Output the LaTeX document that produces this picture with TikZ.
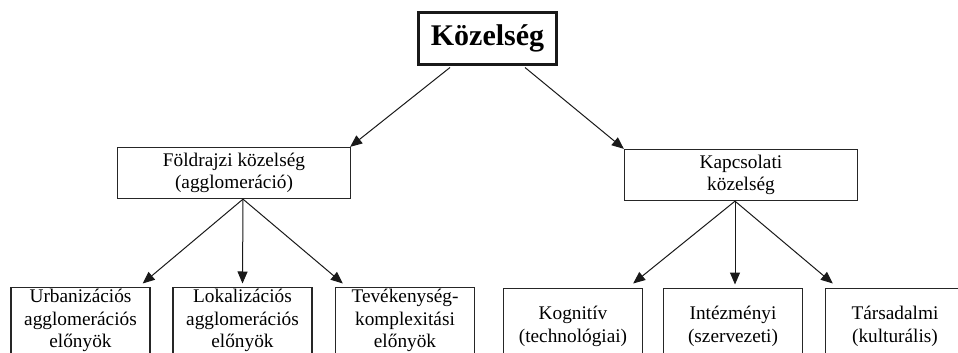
\documentclass[tikz,border=0pt]{standalone}
\usepackage{fontspec}
\setmainfont{Liberation Serif}
\usetikzlibrary{calc,arrows.meta}
\begin{document}
\begin{tikzpicture}[x=1pt,y=-1pt,
  box/.style={draw=black!85,line width=1.3pt,inner sep=0pt,align=center,
    minimum width=139pt,font=\fontsize{19.3}{22.5}\selectfont},
  midbox/.style={box,minimum width=233pt,minimum height=51pt},
  lowbox/.style={box,anchor=north,minimum height=67pt},
  lowbox2/.style={box,anchor=north,minimum height=76pt},
  arr/.style={draw=black!90,line width=1pt,-{Triangle[length=12pt,width=10pt]}}]
\clip (0,0) rectangle (958,353);
\useasboundingbox (0,0) rectangle (958,353);
\node[draw=black!90,line width=3pt,minimum width=138pt,minimum height=52pt,inner sep=0pt,
  font=\fontsize{30}{34}\selectfont\bfseries] (top) at (487.5,38.5) {Közelség};
\node[midbox] (fold) at (234,173) {Földrajzi közelség\\(agglomeráció)};
\node[midbox] (kap) at (741,175) {Kapcsolati\\közelség};
\node[lowbox] (urb) at (80.5,286.5) {Urbanizációs\\agglomerációs\\előnyök};
\node[lowbox] (lok) at (242.5,286.5) {Lokalizációs\\agglomerációs\\előnyök};
\node[lowbox] (tev) at (405,286.5) {Tevékenység-\\komplexitási\\előnyök};
\node[lowbox2] (kog) at (573,287.5) {Kognitív\\(technológiai)};
\node[lowbox2] (int) at (733,287.5) {Intézményi\\(szervezeti)};
\node[lowbox2] (tar) at (895,287.5) {Társadalmi\\(kulturális)};
\draw[arr] ($(top.south)+(-37.5,1.5)$) -- ($(fold.north east)+(-1,0)$);
\draw[arr] ($(top.south)+(37.5,1.5)$) -- ($(kap.north west)+(0,0)$);
\coordinate (fj) at ($(fold.south)+(9,0)$);
\draw[arr] (fj) -- ($(urb.north east)+(-8,-3)$);
\draw[arr] (fj) -- ($(lok.north)+(0,-3)$);
\draw[arr] (fj) -- ($(tev.north west)+(8,-3)$);
\coordinate (kj) at ($(kap.south)+(-6,0)$);
\draw[arr] (kj) -- ($(kog.north east)+(-10,-4)$);
\draw[arr] (kj) -- ($(int.north)+(2,-3)$);
\draw[arr] (kj) -- ($(tar.north west)+(8,-4)$);
\end{tikzpicture}
\end{document}
